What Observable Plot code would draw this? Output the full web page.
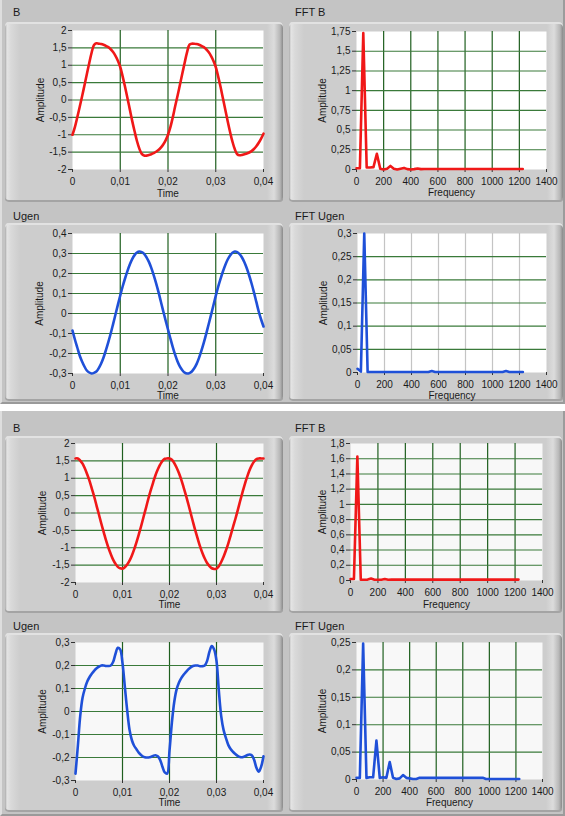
<!DOCTYPE html>
<html>
<head>
<meta charset="utf-8">
<script src="https://cdn.jsdelivr.net/npm/d3@7"></script>
<script src="https://cdn.jsdelivr.net/npm/@observablehq/plot@0.6"></script>
<style>
  html, body { margin: 0; padding: 0; background: #ffffff; }
  #root { position: relative; width: 565px; height: 816px; overflow: hidden; font-family: "Liberation Sans", Arial, sans-serif; }
  .panel { position: absolute; left: 0; width: 565px; background: #c4c4c4; box-sizing: border-box;
           border-left: 2px solid #dedede; border-right: 2px solid #9c9c9c; border-bottom: 2px solid #9a9a9a; }
  .gframe { position: absolute; border-radius: 4px; box-sizing: border-box;
            background: linear-gradient(to right, #a9a9a9 0px, #e4e4e4 2px, #d9d9d9 6px, #cdcdcd 15px, #cdcdcd calc(100% - 16px), #dcdcdc calc(100% - 9px), #b7b7b7 calc(100% - 3px), #8a8a8a 100%);
            box-shadow: inset 0 2px 0 #e2e2e2, inset 0 -2px 0 #a4a4a4; }
  .gtitle { position: absolute; font-size: 11px; color: #1a1a1a; line-height: 12px; }
  .plotwrap { position: absolute; }
  .plotwrap svg { display: block; }
</style>
</head>
<body>
<div id="root"></div>
<script>
// ---------------- data ----------------
const timeStep = 0.0005;   // s, sample spacing of the time signals
const freqStep = 25;       // Hz, bin spacing of the spectra

// Top panel, B (time)
const bTop = [
  -1.0, -0.78, -0.5, -0.2, 0.1, 0.42, 0.74, 1.06, 1.36, 1.58,
  1.63, 1.62, 1.61, 1.59, 1.56, 1.52, 1.46, 1.38, 1.27, 1.13,
  0.95, 0.68, 0.38, 0.06, -0.27, -0.6, -0.9, -1.18, -1.4, -1.55,
  -1.6, -1.6, -1.58, -1.56, -1.53, -1.49, -1.44, -1.37, -1.28, -1.16,
  -1.0, -0.78, -0.5, -0.18, 0.12, 0.44, 0.76, 1.08, 1.38, 1.59,
  1.62, 1.62, 1.61, 1.59, 1.56, 1.52, 1.46, 1.38, 1.27, 1.13,
  0.95, 0.68, 0.38, 0.05, -0.28, -0.61, -0.92, -1.2, -1.42, -1.56,
  -1.59, -1.58, -1.56, -1.54, -1.51, -1.47, -1.41, -1.33, -1.23, -1.11,
  -0.97
];
// Top panel, Ugen (time)
const uTop = [
  -0.085, -0.13, -0.17, -0.21, -0.24, -0.265, -0.285, -0.295, -0.3, -0.297,
  -0.29, -0.273, -0.25, -0.22, -0.183, -0.143, -0.1, -0.053, -0.005, 0.043,
  0.09, 0.135, 0.175, 0.212, 0.245, 0.272, 0.292, 0.305, 0.31, 0.307,
  0.298, 0.281, 0.258, 0.228, 0.192, 0.152, 0.108, 0.06, 0.012, -0.035,
  -0.08, -0.125, -0.168, -0.207, -0.24, -0.266, -0.284, -0.296, -0.3, -0.298,
  -0.29, -0.274, -0.252, -0.222, -0.186, -0.146, -0.102, -0.055, -0.008, 0.04,
  0.088, 0.133, 0.173, 0.21, 0.243, 0.27, 0.29, 0.304, 0.31, 0.307,
  0.297, 0.28, 0.256, 0.226, 0.19, 0.15, 0.106, 0.058, 0.01, -0.03,
  -0.065
];
// Bottom panel, B (time)
const bBot = [
  1.57, 1.57, 1.51, 1.42, 1.28, 1.11, 0.92, 0.69, 0.46, 0.2,
  -0.05, -0.31, -0.55, -0.79, -1.0, -1.18, -1.34, -1.46, -1.55, -1.59,
  -1.6, -1.56, -1.48, -1.37, -1.22, -1.04, -0.83, -0.6, -0.36, -0.1,
  0.15, 0.41, 0.65, 0.87, 1.08, 1.25, 1.39, 1.5, 1.56, 1.57,
  1.57, 1.53, 1.44, 1.31, 1.15, 0.96, 0.74, 0.51, 0.26, 0.0,
  -0.26, -0.51, -0.74, -0.96, -1.15, -1.31, -1.44, -1.53, -1.59, -1.61,
  -1.6, -1.53, -1.41, -1.26, -1.08, -0.88, -0.65, -0.41, -0.18, 0.07,
  0.33, 0.58, 0.82, 1.03, 1.22, 1.37, 1.48, 1.55, 1.57, 1.57,
  1.57
];
// Bottom panel, Ugen (time)
const uBot = [
  -0.27, -0.15, -0.02, 0.06, 0.1, 0.13, 0.15, 0.165, 0.178, 0.188,
  0.195, 0.2, 0.2, 0.198, 0.198, 0.2, 0.215, 0.25, 0.277, 0.27,
  0.21, 0.107, 0.005, -0.08, -0.125, -0.15, -0.165, -0.18, -0.19, -0.197,
  -0.2, -0.2, -0.198, -0.193, -0.19, -0.195, -0.21, -0.24, -0.265, -0.27,
  -0.17, -0.05, 0.04, 0.095, 0.125, 0.145, 0.16, 0.172, 0.183, 0.192,
  0.198, 0.2, 0.2, 0.197, 0.197, 0.2, 0.22, 0.26, 0.285, 0.27,
  0.22, 0.09, -0.02, -0.08, -0.115, -0.145, -0.163, -0.175, -0.185, -0.193,
  -0.198, -0.199, -0.195, -0.19, -0.187, -0.19, -0.21, -0.245, -0.262, -0.24,
  -0.195
];

// Spectra, 0..1225 Hz in 25 Hz bins
const fftBTop = [
  0.015, 0.015, 1.73, 0.025, 0.025, 0.03, 0.2, 0.01, 0.0, 0.01,
  0.045, 0.01, 0.0, 0.01, 0.02, 0.005, 0.0, 0.005, 0.013, 0.005,
  0.006, 0.006, 0.006, 0.006, 0.006, 0.006, 0.006, 0.006, 0.006, 0.006,
  0.006, 0.006, 0.006, 0.006, 0.006, 0.006, 0.006, 0.006, 0.006, 0.006,
  0.006, 0.006, 0.006, 0.006, 0.006, 0.006, 0.006, 0.006, 0.006, 0.006
];
const fftUTop = [
  0.008, 0.002, 0.3, 0.001, 0.001, 0.001, 0.001, 0.001, 0.001, 0.001,
  0.001, 0.001, 0.001, 0.001, 0.001, 0.001, 0.001, 0.001, 0.001, 0.001,
  0.001, 0.001, 0.003, 0.001, 0.001, 0.001, 0.001, 0.001, 0.001, 0.001,
  0.001, 0.001, 0.001, 0.001, 0.001, 0.001, 0.001, 0.001, 0.001, 0.001,
  0.001, 0.001, 0.001, 0.001, 0.003, 0.001, 0.001, 0.001, 0.001, 0.001
];
const fftBBot = [
  0.02, 0.02, 1.63, 0.01, 0.01, 0.012, 0.025, 0.01, 0.01, 0.01,
  0.02, 0.01, 0.012, 0.012, 0.012, 0.012, 0.012, 0.012, 0.012, 0.012,
  0.012, 0.012, 0.012, 0.012, 0.012, 0.012, 0.012, 0.012, 0.012, 0.012,
  0.012, 0.012, 0.012, 0.012, 0.012, 0.012, 0.012, 0.012, 0.012, 0.012,
  0.012, 0.012, 0.012, 0.012, 0.012, 0.012, 0.012, 0.012, 0.012, 0.012
];
const fftUBot = [
  0.003, 0.003, 0.248, 0.003, 0.004, 0.004, 0.071, 0.003, 0.004, 0.003,
  0.032, 0.003, 0.001, 0.002, 0.008, 0.003, 0.002, 0.001, 0.001, 0.003,
  0.003, 0.003, 0.003, 0.003, 0.003, 0.003, 0.003, 0.003, 0.003, 0.003,
  0.003, 0.003, 0.003, 0.003, 0.003, 0.003, 0.003, 0.003, 0.003, 0.001,
  0.001, 0.001, 0.001, 0.001, 0.001, 0.001, 0.001, 0.001, 0.001, 0.001
];

// Tick labels
const timeTicks = [0, 0.01, 0.02, 0.03, 0.04];
const freqTicks = [0, 200, 400, 600, 800, 1000, 1200, 1400];
const bTopTicks = [-2, -1.5, -1, -0.5, 0, 0.5, 1, 1.5, 2];
const fftBTopTicks = [0, 0.25, 0.5, 0.75, 1, 1.25, 1.5, 1.75];
const uTopTicks = [-0.3, -0.2, -0.1, 0, 0.1, 0.2, 0.3, 0.4];
const fftUTopTicks = [0, 0.05, 0.1, 0.15, 0.2, 0.25, 0.3];
const bBotTicks = [-2, -1.5, -1, -0.5, 0, 0.5, 1, 1.5, 2];
const fftBBotTicks = [0, 0.2, 0.4, 0.6, 0.8, 1, 1.2, 1.4, 1.6, 1.8];
const uBotTicks = [-0.3, -0.2, -0.1, 0, 0.1, 0.2, 0.3];
const fftUBotTicks = [0, 0.05, 0.1, 0.15, 0.2, 0.25];

// ---------------- drawing ----------------
const root = document.getElementById("root");
const fmt = d => String(d).replace(".", ",");
const RED = "#f01818", BLUE = "#1f50d8";
const GREEN_V = "#1f5f1f", GREEN_H = "#3a7a3a", GRAY_V = "#c4c4c4";

function addDiv(cls, css, text) {
  const d = document.createElement("div");
  d.className = cls;
  Object.assign(d.style, css);
  if (text) d.textContent = text;
  root.appendChild(d);
  return d;
}

addDiv("panel", {top: "0px", height: "404px"});
addDiv("panel", {top: "411px", height: "405px"});

function chart(o) {
  const f = o.frame, a = o.area;
  addDiv("gframe", {left: f.x + "px", top: f.y + "px", width: f.w + "px", height: f.h + "px"});
  addDiv("gtitle", {left: o.titleX + "px", top: (o.titleY - 6) + "px"}, o.title);
  const isTime = o.kind === "time";
  const xs = isTime ? o.values.map((_, i) => i * timeStep) : o.values.map((_, i) => i * freqStep);
  const xDom = isTime ? [0, 0.04] : [0, 1400];
  const xTicks = isTime ? timeTicks : freqTicks;
  const xGrid = xTicks.slice(1, -1);
  const yGrid = o.yTicks.slice(1, -1);
  const svg = Plot.plot({
    width: f.w, height: f.h,
    marginLeft: a.x0 - f.x, marginRight: f.x + f.w - a.x1,
    marginTop: a.y0 - f.y, marginBottom: f.y + f.h - a.y1,
    x: {domain: xDom},
    y: {domain: o.yDomain},
    style: {background: "transparent", fontFamily: "'Liberation Sans', Arial, sans-serif", fontSize: "10px", color: "#1a1a1a", overflow: "visible"},
    marks: [
      Plot.frame({fill: o.bg, stroke: "none"}),
      Plot.gridX(xGrid, {stroke: o.vGrid || GREEN_V, strokeOpacity: 1, strokeWidth: 1.2}),
      Plot.gridY(yGrid, {stroke: GREEN_H, strokeOpacity: 1, strokeWidth: 1.1}),
      Plot.axisX(xTicks, {tickSize: 3, tickPadding: 5, tickFormat: fmt, label: null, stroke: "#333"}),
      Plot.axisY(o.yTicks, {tickSize: 4, tickPadding: 2, tickFormat: fmt, label: null, stroke: "#333"}),
      Plot.line(o.values, {x: (d, i) => xs[i], y: d => d, stroke: o.color, strokeWidth: 2.6,
        curve: isTime ? "catmull-rom" : "linear", strokeLinejoin: "round"}),
      Plot.text(["Amplitude"], {frameAnchor: "left", dx: o.ylabDx, rotate: -90, textAnchor: "middle", fill: "#1a1a1a"}),
      Plot.text([isTime ? "Time" : "Frequency"], {frameAnchor: "bottom", dy: o.xlabDy, textAnchor: "middle", fill: "#1a1a1a"})
    ]
  });
  const w = document.createElement("div");
  w.className = "plotwrap";
  w.style.left = f.x + "px";
  w.style.top = f.y + "px";
  w.appendChild(svg);
  root.appendChild(w);
}

// top panel
chart({title: "B", titleX: 13, titleY: 12, kind: "time", values: bTop, color: RED, bg: "#ffffff",
  frame: {x: 5, y: 22, w: 278, h: 180}, area: {x0: 72, x1: 263, y0: 30, y1: 169},
  yDomain: [-2, 2], yTicks: bTopTicks, ylabDx: -32, xlabDy: 27});
chart({title: "FFT B", titleX: 295, titleY: 12, kind: "freq", values: fftBTop, color: RED, bg: "#ffffff",
  frame: {x: 289, y: 22, w: 274, h: 180}, area: {x0: 356, x1: 546, y0: 31, y1: 169},
  yDomain: [0, 1.75], yTicks: fftBTopTicks, ylabDx: -34, xlabDy: 26});
chart({title: "Ugen", titleX: 13, titleY: 216, kind: "time", values: uTop, color: BLUE, bg: "#ffffff",
  frame: {x: 5, y: 223, w: 278, h: 178}, area: {x0: 72, x1: 263, y0: 233, y1: 373},
  yDomain: [-0.3, 0.4], yTicks: uTopTicks, ylabDx: -33, xlabDy: 25});
chart({title: "FFT Ugen", titleX: 295, titleY: 216, kind: "freq", values: fftUTop, color: BLUE, bg: "#ffffff", vGrid: GRAY_V,
  frame: {x: 289, y: 223, w: 274, h: 178}, area: {x0: 357, x1: 546, y0: 233, y1: 372},
  yDomain: [0, 0.3], yTicks: fftUTopTicks, ylabDx: -34, xlabDy: 26});

// bottom panel
chart({title: "B", titleX: 13, titleY: 428, kind: "time", values: bBot, color: RED, bg: "#f8f8f8",
  frame: {x: 5, y: 436, w: 278, h: 177}, area: {x0: 75, x1: 263, y0: 443, y1: 582},
  yDomain: [-2, 2], yTicks: bBotTicks, ylabDx: -33, xlabDy: 25});
chart({title: "FFT B", titleX: 295, titleY: 428, kind: "freq", values: fftBBot, color: RED, bg: "#f8f8f8",
  frame: {x: 289, y: 436, w: 273, h: 177}, area: {x0: 350, x1: 542, y0: 443, y1: 580},
  yDomain: [0, 1.8], yTicks: fftBBotTicks, ylabDx: -28, xlabDy: 27});
chart({title: "Ugen", titleX: 13, titleY: 626, kind: "time", values: uBot, color: BLUE, bg: "#f8f8f8",
  frame: {x: 5, y: 633, w: 278, h: 179}, area: {x0: 75, x1: 263, y0: 642, y1: 780},
  yDomain: [-0.3, 0.3], yTicks: uBotTicks, ylabDx: -33, xlabDy: 25});
chart({title: "FFT Ugen", titleX: 295, titleY: 626, kind: "freq", values: fftUBot, color: BLUE, bg: "#f8f8f8",
  frame: {x: 289, y: 633, w: 273, h: 179}, area: {x0: 356, x1: 542, y0: 642, y1: 779},
  yDomain: [0, 0.25], yTicks: fftUBotTicks, ylabDx: -34, xlabDy: 26});
</script>
</body>
</html>
